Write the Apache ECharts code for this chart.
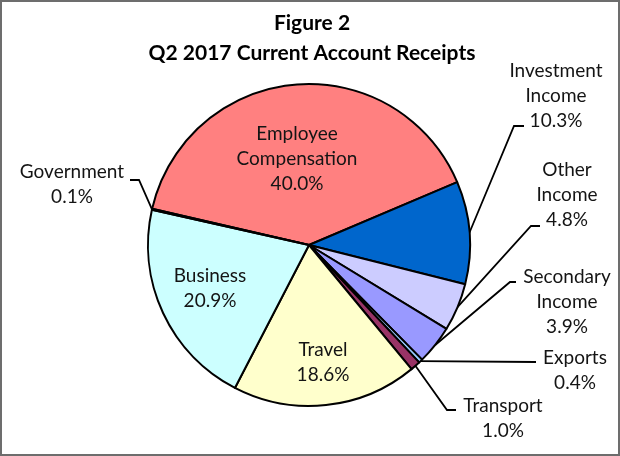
<!DOCTYPE html>
<html>
<head>
<meta charset="utf-8">
<script src="https://cdn.jsdelivr.net/npm/echarts@6/dist/echarts.min.js"></script>
<style>
html,body{margin:0;padding:0;background:#fff;}
#chart{width:620px;height:456px;}
</style>
</head>
<body>
<div id="chart"></div>
<script>
// ---- data ----
var categories = ["Employee Compensation", "Investment Income", "Other Income", "Secondary Income", "Exports", "Transport", "Travel", "Business", "Government"];
var shares = [40.0, 10.3, 4.8, 3.9, 0.4, 1.0, 18.6, 20.9, 0.1];
var titleLines = ["Figure 2", "Q2 2017 Current Account Receipts"];

// ---- styles / layout ----
var colors = ["#FF8080", "#0066CC", "#CCCCFF", "#9999FF", "#99CCFF", "#993366", "#FFFFCC", "#CCFFFF", "#404040"];
var insideLabel = [true, false, false, false, false, false, true, true, false];
// label centre positions (px) and leader elbows
var labelPos = [
  [297, 159], [556, 96], [567, 195], [567, 302], [575, 370], [503, 418], [323, 362], [210, 288], [72, 184]
];
var elbows = [
  null,
  [[514, 126], [524, 126]],
  [[531, 226], [540, 226]],
  [[510, 282], [516, 282]],
  [[536, 362]],
  [[447, 410], [456, 410]],
  null, null,
  [[139, 180], [130, 180]]
];
var FONT = "Lato, 'Open Sans', sans-serif";

var data = categories.map(function (c, i) {
  return {
    name: c,
    value: shares[i],
    itemStyle: { color: colors[i] },
    labelLine: { show: !insideLabel[i] }
  };
});

var chart = echarts.init(document.getElementById('chart'), null, { renderer: 'canvas' });
chart.setOption({
  animation: false,
  backgroundColor: '#ffffff',
  title: {
    text: titleLines.join('\n'),
    left: 307, top: 3, textAlign: 'center',
    textStyle: { fontFamily: FONT, fontWeight: 'bold', fontSize: 21, lineHeight: 30, color: '#000' }
  },
  graphic: [{
    type: 'rect', shape: { x: 1, y: 1, width: 618, height: 454 },
    style: { fill: 'none', stroke: '#6d6d6d', lineWidth: 2 }, silent: true
  }],
  series: [{
    type: 'pie',
    center: [309, 245],
    radius: 161,
    startAngle: 167,
    clockwise: true,
    avoidLabelOverlap: false,
    data: data,
    itemStyle: { borderColor: '#000', borderWidth: 2 },
    label: {
      show: true,
      position: 'outside',
      fontFamily: FONT,
      fontSize: 19,
      lineHeight: 25,
      color: '#141414',
      align: 'center',
      formatter: function (p) {
        return p.name.replace(/ /g, '\n') + '\n' + p.value.toFixed(1) + '%';
      }
    },
    labelLine: { show: true, length: 10, length2: 10, lineStyle: { color: '#000', width: 1.8 } },
    labelLayout: function (p) {
      var i = p.dataIndex;
      var res = { x: labelPos[i][0], y: labelPos[i][1], align: 'center', verticalAlign: 'middle' };
      if (elbows[i] && p.labelLinePoints) {
        res.labelLinePoints = [p.labelLinePoints[0]].concat(elbows[i]);
      }
      return res;
    }
  }]
});
</script>
</body>
</html>
